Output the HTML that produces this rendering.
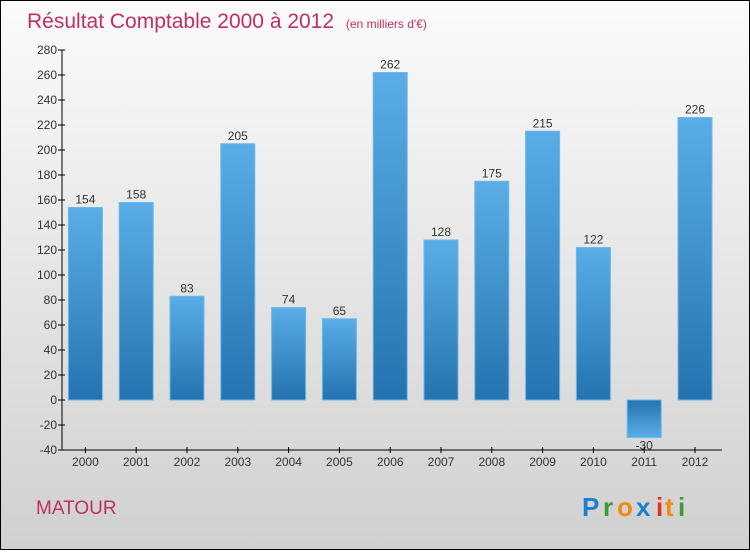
<!DOCTYPE html>
<html><head><meta charset="utf-8"><style>
html,body{margin:0;padding:0;}
body{width:750px;height:550px;overflow:hidden;font-family:"Liberation Sans",sans-serif;}
</style></head><body>
<svg id="chart" width="750" height="550" xmlns="http://www.w3.org/2000/svg">
<defs>
<linearGradient id="bg" x1="0" y1="0" x2="0" y2="1"><stop offset="0" stop-color="#fbfbfb"/><stop offset="1" stop-color="#d0d0d0"/></linearGradient>
<linearGradient id="barg" x1="0" y1="0" x2="0" y2="1"><stop offset="0" stop-color="#5aade6"/><stop offset="1" stop-color="#2473b0"/></linearGradient>
<linearGradient id="barn" x1="0" y1="0" x2="0" y2="1"><stop offset="0" stop-color="#2473b0"/><stop offset="1" stop-color="#5aade6"/></linearGradient>
</defs>
<rect x="0.5" y="0.5" width="749" height="549" fill="url(#bg)" stroke="#000"/>
<text x="27" y="28" font-size="21" fill="#c0305f">Résultat Comptable 2000 à 2012 <tspan font-size="12" dx="6">(en milliers d'€)</tspan></text>
<text x="36" y="514" font-size="19" fill="#c0305f">MATOUR</text>
<g font-size="26" font-weight="bold">
<text x="582" y="516" fill="#1a7fd0">P</text><text x="603" y="516" fill="#3a9a3a">r</text><text x="617" y="516" fill="#f08a10">o</text><text x="636" y="516" fill="#1a7fd0">x</text><text x="656" y="516" fill="#e03020">i</text><text x="665" y="516" fill="#f08a10">t</text><text x="678" y="516" fill="#3a9a3a">i</text>
</g>
<g id="plot"></g>
</svg>
<script>
const categories=["2000","2001","2002","2003","2004","2005","2006","2007","2008","2009","2010","2011","2012"];
const values=[154,158,83,205,74,65,262,128,175,215,122,-30,226];
const yTicks=[-40,-20,0,20,40,60,80,100,120,140,160,180,200,220,240,260,280];
(function(){
const NS="http://www.w3.org/2000/svg";
const g=document.getElementById("plot");
const yMin=-40,yMax=280,pTop=50,pBot=450,axisX=62;
const y=v=>pBot-(v-yMin)/(yMax-yMin)*(pBot-pTop);
const x0=85.4,step=50.8,bw=34;
const x=i=>x0+i*step;
function mk(t,a){const e=document.createElementNS(NS,t);for(const k in a)e.setAttribute(k,a[k]);g.appendChild(e);return e;}
let e=mk("line",{x1:axisX,y1:pTop,x2:axisX,y2:pBot,stroke:"#000"});


e=mk("line",{x1:axisX,y1:pBot,x2:722,y2:pBot,stroke:"#000"});


yTicks.forEach(v=>{
 const t=mk("line",{x1:axisX-4,y1:y(v),x2:axisX+3,y2:y(v),stroke:"#000"});
 
 
 const l=mk("text",{x:axisX-5,y:y(v)+4,"font-size":12,fill:"#333","text-anchor":"end"});
 l.textContent=v;
 
 
});
categories.forEach((c,i)=>{
 const v=values[i];
 const yt=Math.min(y(v),y(0)),h=Math.abs(y(v)-y(0));
 const r=mk("rect",{x:x(i)-bw/2,y:yt,width:bw,height:h,fill:v<0?"url(#barn)":"url(#barg)",stroke:"#6bb8ec","stroke-width":1});
 
 
 const vl=mk("text",{x:x(i),y:v<0?y(v)+12:y(v)-4,"font-size":12,fill:"#333","text-anchor":"middle"});
 vl.textContent=v;
 
 
 const t=mk("line",{x1:x(i),y1:pBot-3,x2:x(i),y2:pBot+3,stroke:"#000"});
 
 
 const l=mk("text",{x:x(i),y:pBot+16,"font-size":12,fill:"#333","text-anchor":"middle"});
 l.textContent=c;
 
 
});
})();
</script>
</body></html>
